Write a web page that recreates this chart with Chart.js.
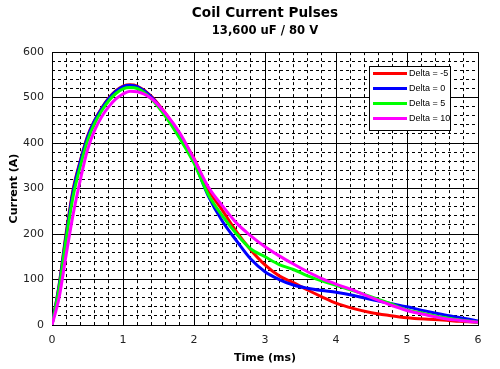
<!DOCTYPE html>
<html>
<head>
<meta charset="utf-8">
<script src="https://cdn.jsdelivr.net/npm/chart.js@4/dist/chart.umd.min.js"></script>
<style>
html,body{margin:0;padding:0;background:#fff;}
#wrap{width:500px;height:369px;}
</style>
</head>
<body>
<div id="wrap"><canvas id="c" width="500" height="369"></canvas></div>
<script>
// ---- data ----
const times    = [0, 0.1, 0.2, 0.3, 0.4, 0.5, 0.6, 0.7, 0.8, 0.9, 1.0, 1.1, 1.2, 1.4, 1.6, 1.8, 2.0, 2.2, 2.4, 2.6, 2.8, 3.0, 3.2, 3.4, 3.6, 3.8, 4.0, 4.25, 4.5, 4.75, 5.0, 5.25, 5.5, 5.75, 6.0];
const deltaM5  = [0, 88, 203, 300, 362, 415, 450, 477, 499, 515, 525, 528, 525, 503, 465, 418, 366, 298, 252, 205, 165, 132, 108, 93, 77, 62, 48, 36, 27, 21, 16, 13, 11, 8, 6];
const delta0   = [0, 86, 198, 296, 360, 413, 449, 476, 498, 514, 524, 527, 524, 501, 462, 414, 358, 284, 228, 185, 145, 117, 100, 88, 81, 76, 72, 65, 56, 48, 40, 31, 23, 16, 9];
const delta5   = [0, 80, 190, 285, 350, 405, 443, 471, 493, 509, 519, 522, 520, 497, 458, 410, 356, 287, 240, 200, 167, 150, 133, 122, 108, 97, 87, 75, 62, 48, 33, 25, 17, 11, 6];
const delta10  = [0, 60, 155, 245, 320, 385, 428, 458, 480, 497, 508, 514, 513, 498, 465, 422, 365, 304, 262, 224, 196, 172, 152, 134, 117, 102, 90, 76, 60, 45, 32, 23, 15, 10, 6];
const seriesLabels = ['Delta = -5', 'Delta = 0', 'Delta = 5', 'Delta = 10'];
const seriesColors = ['#FF0000', '#0000FF', '#00FF00', '#FF00FF'];
const seriesValues = [deltaM5, delta0, delta5, delta10];

const FONT = "'DejaVu Sans', Verdana, sans-serif";

const datasets = seriesValues.map((vals, i) => ({
  label: seriesLabels[i],
  data: vals.map((v, k) => ({x: times[k], y: v})),
  borderColor: seriesColors[i],
  backgroundColor: seriesColors[i],
  borderWidth: 3,
  pointRadius: 0,
  cubicInterpolationMode: 'monotone',
  fill: false,
  order: seriesValues.length - i,
  xAxisID: 'x',
  yAxisID: 'y'
}));

const boxLegend = {
  id: 'boxLegend',
  afterDatasetsDraw(chart) {
    const ctx = chart.ctx;
    ctx.save();
    ctx.fillStyle = '#fff';
    ctx.fillRect(369.5, 66.5, 81, 64);
    ctx.strokeStyle = '#000';
    ctx.lineWidth = 1;
    ctx.strokeRect(369.5, 66.5, 81, 64);
    chart.data.datasets.forEach((ds, i) => {
      const y = 73.5 + 15 * i;
      ctx.strokeStyle = ds.borderColor;
      ctx.lineWidth = 3;
      ctx.beginPath();
      ctx.moveTo(373, y);
      ctx.lineTo(407, y);
      ctx.stroke();
      ctx.fillStyle = '#000';
      ctx.font = "9px 'Liberation Sans', Arial, sans-serif";
      ctx.textBaseline = 'middle';
      ctx.textAlign = 'left';
      ctx.fillText(ds.label, 409, y + 0.5);
    });
    ctx.restore();
  }
};

new Chart(document.getElementById('c'), {
  type: 'line',
  data: { datasets },
  options: {
    responsive: false,
    animation: false,
    events: [],
    layout: { padding: { left: 0, right: 22, top: 0, bottom: 0 } },
    plugins: {
      legend: { display: false },
      tooltip: { enabled: false },
      title: {
        display: true,
        fullSize: false,
        text: 'Coil Current Pulses',
        color: '#000',
        font: { family: FONT, size: 13.6, weight: 'bold', lineHeight: 1.3 },
        padding: { top: 4.5, bottom: 0 }
      },
      subtitle: {
        display: true,
        fullSize: false,
        text: '13,600 uF / 80 V',
        color: '#000',
        font: { family: FONT, size: 11.6, weight: 'bold', lineHeight: 1.2 },
        padding: { top: 2, bottom: 14 }
      }
    },
    scales: {
      x: {
        type: 'linear', position: 'bottom', min: 0, max: 6,
        afterFit(s) { s.height = 44; },
        ticks: { stepSize: 1, padding: 9, color: '#222', font: { family: FONT, size: 11 } },
        grid: { color: '#000', lineWidth: 1, drawTicks: false },
        border: { display: true, color: '#000' },
        title: { display: true, text: 'Time (ms)', color: '#000', font: { family: FONT, size: 11, weight: 'bold', lineHeight: 1.2 }, padding: { top: 4, bottom: 4 } }
      },
      x2: {
        type: 'linear', position: 'bottom', min: 0, max: 6,
        afterFit(s) { s.height = 0; },
        ticks: { stepSize: 0.2, display: false },
        grid: {
          drawTicks: false, lineWidth: 1,
          color: (c) => (Math.abs(c.tick.value * 5 - Math.round(c.tick.value) * 5) < 0.01) ? 'rgba(0,0,0,0)' : '#000'
        },
        border: { display: false, dash: [3, 3] }
      },
      y: {
        type: 'linear', position: 'left', min: 0, max: 600,
        afterFit(s) { s.width = 52; },
        ticks: { stepSize: 100, padding: 8, color: '#222', font: { family: FONT, size: 11 } },
        grid: { color: '#000', lineWidth: 1, drawTicks: false },
        border: { display: true, color: '#000' },
        title: { display: true, text: 'Current (A)', color: '#000', font: { family: FONT, size: 11, weight: 'bold', lineHeight: 1.2 }, padding: { top: 8, bottom: 0 } }
      },
      y2: {
        type: 'linear', position: 'left', min: 0, max: 600,
        afterFit(s) { s.width = 0; },
        ticks: { stepSize: 20, display: false },
        grid: {
          drawTicks: false, lineWidth: 1,
          color: (c) => (Math.round(c.tick.value) % 100 === 0) ? 'rgba(0,0,0,0)' : '#000'
        },
        border: { display: false, dash: [3, 3] }
      }
    }
  },
  plugins: [boxLegend]
});
</script>
</body>
</html>
